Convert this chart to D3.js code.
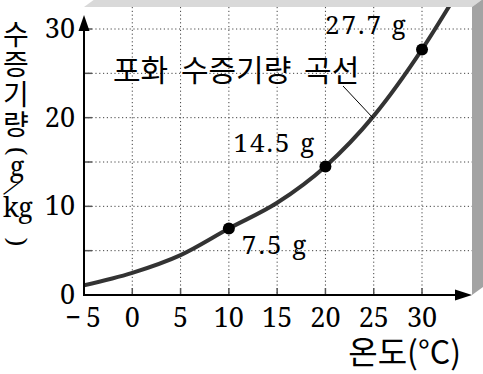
<!DOCTYPE html>
<html>
<head>
<meta charset="utf-8">
<script src="https://cdn.jsdelivr.net/npm/d3@7"></script>
<style>
  body { margin: 0; background: #fff; }
  svg { display: block; }
</style>
</head>
<body>
<div id="chart"></div>
<script>
// saturation curve
const temps = [-5, 0, 5, 10, 15, 20, 25, 30, 33];
const vapor = [1.1, 2.5, 4.5, 7.5, 10.4, 14.5, 20.2, 27.7, 32.9];

// marked points
const markTemps = [10, 20, 30];
const markValues = [7.5, 14.5, 27.7];
const markLabels = ["7.5 g", "14.5 g", "27.7 g"];

const xTicks = [-5, 0, 5, 10, 15, 20, 25, 30];
const xTickLabels = ["\u22125", "0", "5", "10", "15", "20", "25", "30"];
const yTicks = [0, 10, 20, 30];
const yGrid = [5, 10, 15, 20, 25, 30];

const width = 483, height = 374;
const pLeft = 84, pRight = 472, pTop = 7, pBottom = 295;
const depth = [11, -8];

const x = d3.scaleLinear().domain([-5, 35]).range([84, 470.3]);
const y = d3.scaleLinear().domain([0, 30]).range([295, 29]);

const serif = "'Noto Serif', 'Liberation Serif', serif";
const kfont = "'Noto Sans CJK KR', 'Noto Sans', sans-serif";

const svg = d3.select("#chart")
  .append("svg")
  .attr("width", width)
  .attr("height", height);

// box faces
svg.append("path")
  .attr("fill", "#d9d9d9")
  .attr("d", `M${pLeft},${pTop}L${pRight},${pTop}L${pRight + depth[0]},${pTop + depth[1]}L${pLeft + depth[0]},${pTop + depth[1]}Z`);
svg.append("path")
  .attr("fill", "#a3a3a3")
  .attr("d", `M${pRight},${pTop}L${pRight + depth[0]},${pTop + depth[1]}L${pRight + depth[0]},${pBottom + depth[1]}L${pRight},${pBottom}Z`);

// dotted grid
const grid = svg.append("g")
  .attr("stroke", "#444")
  .attr("stroke-width", 1)
  .attr("stroke-dasharray", "1.2,2.6");
grid.selectAll(".vg")
  .data(xTicks.slice(1))
  .join("line")
  .attr("x1", d => x(d)).attr("x2", d => x(d))
  .attr("y1", pTop).attr("y2", pBottom);
grid.selectAll(".hg")
  .data(yGrid)
  .join("line")
  .attr("x1", pLeft).attr("x2", pRight)
  .attr("y1", d => y(d)).attr("y2", d => y(d));

// small ticks
const ticks = svg.append("g").attr("stroke", "#555").attr("stroke-width", 1.5);
ticks.selectAll(".xt")
  .data(xTicks.slice(1))
  .join("line")
  .attr("x1", d => x(d)).attr("x2", d => x(d))
  .attr("y1", pBottom).attr("y2", pBottom - 7);
ticks.selectAll(".yt")
  .data(yGrid)
  .join("line")
  .attr("x1", pLeft).attr("x2", pLeft + 8)
  .attr("y1", d => y(d)).attr("y2", d => y(d));

// curve
svg.append("clipPath").attr("id", "clip")
  .append("rect")
  .attr("x", pLeft).attr("y", pTop)
  .attr("width", pRight - pLeft).attr("height", pBottom - pTop);

const line = d3.line()
  .x(d => x(d[0]))
  .y(d => y(d[1]))
  .curve(d3.curveMonotoneX);

svg.append("path")
  .attr("clip-path", "url(#clip)")
  .attr("fill", "none")
  .attr("stroke", "#333")
  .attr("stroke-width", 4)
  .attr("d", line(d3.zip(temps, vapor)));

// axes with arrows
svg.append("line")
  .attr("x1", pLeft).attr("x2", pRight - 14)
  .attr("y1", pBottom).attr("y2", pBottom)
  .attr("stroke", "#000").attr("stroke-width", 2);
svg.append("path")
  .attr("fill", "#000")
  .attr("d", `M${pRight},${pBottom}L${pRight - 17},${pBottom - 5.5}L${pRight - 17},${pBottom + 5.5}Z`);
svg.append("line")
  .attr("x1", pLeft).attr("x2", pLeft)
  .attr("y1", pBottom + 1).attr("y2", 28)
  .attr("stroke", "#000").attr("stroke-width", 2);
svg.append("path")
  .attr("fill", "#000")
  .attr("d", `M${pLeft},15L${pLeft - 5.5},31L${pLeft + 5.5},31Z`);

// tick labels
svg.append("g")
  .attr("font-family", serif)
  .attr("font-size", 27)
  .selectAll("text")
  .data(xTicks)
  .join("text")
  .attr("y", 327)
  .each(function (d, i) {
    const t = d3.select(this).text(xTickLabels[i]);
    if (d < 0) {
      // wide gap after the minus, as in the print
      t.attr("x", x(d) + 22).attr("text-anchor", "end").attr("letter-spacing", 5);
    } else {
      t.attr("x", x(d)).attr("text-anchor", "middle");
    }
  });

svg.append("g")
  .attr("font-family", serif)
  .attr("font-size", 27)
  .attr("text-anchor", "end")
  .selectAll("text")
  .data(yTicks)
  .join("text")
  .attr("x", 75)
  .attr("y", d => y(d) + 9)
  .text(d => d);

// marked points and labels
const labelOffset = [[13, 25], [-92, -14], [-97, -15]];
svg.append("g")
  .selectAll("circle")
  .data(markTemps)
  .join("circle")
  .attr("cx", d => x(d))
  .attr("cy", (d, i) => y(markValues[i]))
  .attr("r", 6)
  .attr("fill", "#000");

svg.append("g")
  .attr("font-family", serif)
  .attr("font-size", 26)
  .attr("letter-spacing", 2)
  .selectAll("text")
  .data(markTemps)
  .join("text")
  .attr("x", (d, i) => x(d) + labelOffset[i][0])
  .attr("y", (d, i) => y(markValues[i]) + labelOffset[i][1])
  .text((d, i) => markLabels[i]);

// curve name with leader
svg.append("text")
  .attr("x", 113)
  .attr("y", 81)
  .attr("font-family", kfont)
  .attr("font-size", 30)
  .attr("word-spacing", 6)
  .text("포화 수증기량 곡선");
svg.append("line")
  .attr("x1", 343).attr("y1", 86)
  .attr("x2", 373).attr("y2", 118)
  .attr("stroke", "#000").attr("stroke-width", 1);

// x title
svg.append("text")
  .attr("x", 461)
  .attr("y", 364)
  .attr("text-anchor", "end")
  .attr("font-family", kfont)
  .attr("font-size", 32)
  .text("온도(°C)");

// y title: hangul written vertically, unit stacked below
svg.append("text")
  .attr("x", 16)
  .attr("y", 20)
  .attr("font-family", kfont)
  .attr("font-size", 28)
  .attr("letter-spacing", 2)
  .style("writing-mode", "vertical-rl")
  .text("수증기량");

const unit = svg.append("g")
  .attr("font-family", serif)
  .attr("text-anchor", "middle");
unit.append("text")
  .attr("transform", "translate(16,151) rotate(90)")
  .attr("font-size", 25)
  .attr("dy", "0.32em")
  .text("(");
unit.append("text")
  .attr("x", 17).attr("y", 176)
  .attr("font-size", 27)
  .text("g");
unit.append("text")
  .attr("transform", "translate(12,188) rotate(38)")
  .attr("font-size", 23)
  .attr("dy", "0.32em")
  .text("/");
unit.append("text")
  .attr("x", 18).attr("y", 217)
  .attr("font-size", 27)
  .text("kg");
unit.append("text")
  .attr("transform", "translate(16,242) rotate(90)")
  .attr("font-size", 25)
  .attr("dy", "0.32em")
  .text(")");
</script>
</body>
</html>
